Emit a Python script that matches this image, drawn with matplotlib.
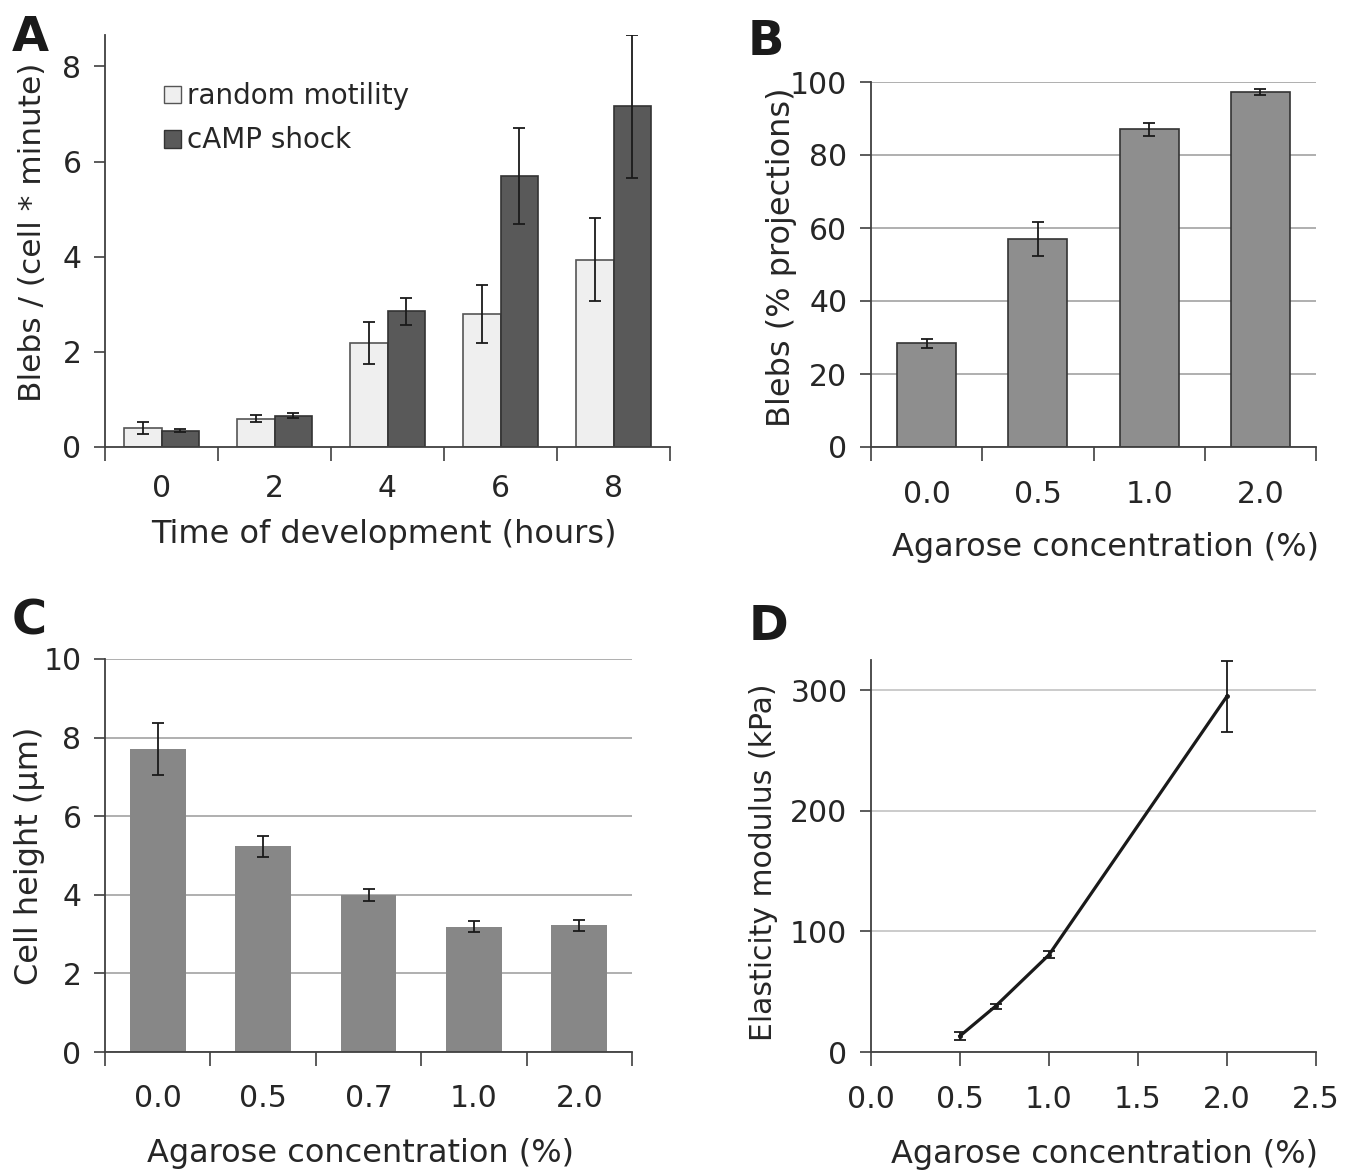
import matplotlib
matplotlib.use('Agg')
import matplotlib.pyplot as plt
import numpy as np
from matplotlib.patches import Patch

plt.rcParams['font.family'] = ['DejaVu Sans']

# ---- data ----
hours = ['0', '2', '4', '6', '8']
random_motility = [0.40, 0.59, 2.18, 2.79, 3.94]
random_err = [0.13, 0.075, 0.44, 0.61, 0.88]
camp_shock = [0.34, 0.655, 2.85, 5.69, 7.16]
camp_err = [0.03, 0.05, 0.29, 1.01, 1.51]

agarose_b = ['0.0', '0.5', '1.0', '2.0']
blebs_pct = [28.4, 56.9, 87.0, 97.2]
blebs_err = [1.2, 4.7, 1.8, 0.75]

agarose_c = ['0.0', '0.5', '0.7', '1.0', '2.0']
cell_height = [7.71, 5.23, 4.00, 3.19, 3.22]
cell_height_err = [0.66, 0.26, 0.16, 0.14, 0.14]

agarose_d = [0.5, 0.7, 1.0, 2.0]
elasticity = [13.3, 38.0, 80.6, 295.0]
elasticity_err = [3.5, 2.0, 3.0, 29.5]

W, H = 1352, 1173
fig = plt.figure(figsize=(W / 100, H / 100), dpi=100)

TXT = '#262626'
AX = '#404040'
GRID = '#9a9a9a'
TFS = 21.5
LFS = 23


def rect(l, r, b, t):
    return [l / W, 1 - b / H, (r - l) / W, (b - t) / H]


def style(ax, tfs=TFS, ypad=9):
    for s in ['top', 'right']:
        ax.spines[s].set_visible(False)
    for s in ['left', 'bottom']:
        ax.spines[s].set_color(AX)
        ax.spines[s].set_linewidth(1.3)
    ax.tick_params(axis='y', colors=AX, labelcolor=TXT, labelsize=tfs,
                   length=8, width=1.2, pad=ypad)


def cat_xaxis(ax, labels, pad, tfs=TFS):
    n = len(labels)
    ax.set_xlim(-0.5, n - 0.5)
    ax.set_xticks(np.arange(n + 1) - 0.5)
    ax.set_xticklabels([])
    ax.tick_params(axis='x', which='major', length=10, width=1.2, colors=AX)
    ax.set_xticks(np.arange(n), minor=True)
    ax.set_xticklabels(labels, minor=True)
    ax.tick_params(axis='x', which='minor', length=0, pad=pad,
                   labelsize=tfs, labelcolor=TXT)


ekw = dict(ecolor='#1a1a1a', elinewidth=1.3, capsize=4, capthick=1.3)

# ---- Panel A ----
axA = fig.add_axes(rect(105, 670, 447, 35))
style(axA)
x = np.arange(len(hours))
bw = 0.335
axA.bar(x - bw / 2, random_motility, bw, yerr=random_err, color='#efefef',
        edgecolor='#555555', linewidth=1.2, error_kw=ekw, zorder=2)
axA.bar(x + bw / 2, camp_shock, bw, yerr=camp_err, color='#595959',
        edgecolor='#333333', linewidth=1.2, error_kw=ekw, zorder=2)
axA.set_ylim(0, 8.66)
axA.set_yticks([0, 2, 4, 6, 8])
cat_xaxis(axA, hours, 19.5)
axA.set_ylabel('Blebs / (cell * minute)', fontsize=22.5, color=TXT)
axA.yaxis.set_label_coords(-0.103, 0.52)
axA.set_xlabel('Time of development (hours)', fontsize=LFS, color=TXT)
axA.xaxis.set_label_coords(0.494, -0.175)
axA.legend(handles=[Patch(facecolor='#efefef', edgecolor='#555555', label='random motility'),
                    Patch(facecolor='#595959', edgecolor='#333333', label='cAMP shock')],
           loc='upper left', bbox_to_anchor=(0.105, 0.885), frameon=False,
           fontsize=20, handlelength=0.6, handleheight=0.6, handletextpad=0.2,
           labelspacing=0.58, borderpad=0, borderaxespad=0, labelcolor=TXT)

# ---- Panel B ----
axB = fig.add_axes(rect(871, 1316, 447, 82))
style(axB)
xb = np.arange(len(agarose_b))
axB.bar(xb, blebs_pct, 0.53, yerr=blebs_err, color='#8e8e8e', edgecolor='#333333',
        linewidth=1.2, error_kw=ekw, zorder=2)
axB.set_ylim(0, 100)
axB.set_yticks(np.arange(0, 101, 20))
axB.yaxis.grid(True, color=GRID, linewidth=1.1, zorder=0)
axB.set_axisbelow(True)
cat_xaxis(axB, agarose_b, 24)
axB.set_ylabel('Blebs (% projections)', fontsize=23, color=TXT)
axB.yaxis.set_label_coords(-0.167, 0.52)
axB.set_xlabel('Agarose concentration (%)', fontsize=LFS, color=TXT)
axB.xaxis.set_label_coords(0.526, -0.233)

# ---- Panel C ----
axC = fig.add_axes(rect(105, 632, 1052, 659))
style(axC)
xc = np.arange(len(agarose_c))
axC.bar(xc, cell_height, 0.53, yerr=cell_height_err, color='#878787', linewidth=0,
        error_kw=ekw, zorder=2)
axC.set_ylim(0, 10)
axC.set_yticks(np.arange(0, 11, 2))
axC.yaxis.grid(True, color=GRID, linewidth=1.1, zorder=0)
axC.set_axisbelow(True)
cat_xaxis(axC, agarose_c, 23)
axC.set_ylabel('Cell height (µm)', fontsize=LFS, color=TXT)
axC.yaxis.set_label_coords(-0.114, 0.50)
axC.set_xlabel('Agarose concentration (%)', fontsize=LFS, color=TXT)
axC.xaxis.set_label_coords(0.484, -0.219)

# ---- Panel D ----
axD = fig.add_axes(rect(871, 1316, 1052, 660))
style(axD)
axD.errorbar(agarose_d, elasticity, yerr=elasticity_err, color='#1a1a1a', linewidth=2.3,
             marker='o', markersize=2.5, ecolor='#1a1a1a', elinewidth=1.3, capsize=4,
             capthick=1.3, zorder=3)
axD.set_xlim(0, 2.5)
axD.set_ylim(0, 325)
axD.set_yticks([0, 100, 200, 300])
axD.set_xticks(np.arange(0, 2.51, 0.5))
axD.set_xticklabels(['0.0', '0.5', '1.0', '1.5', '2.0', '2.5'])
axD.tick_params(axis='x', length=10, width=1.2, colors=AX, labelcolor=TXT,
                labelsize=TFS, pad=14)
axD.yaxis.grid(True, color='#bdbdbd', linewidth=1.1, zorder=0)
axD.set_axisbelow(True)
axD.set_ylabel('Elasticity modulus (kPa)', fontsize=21.5, color=TXT)
axD.yaxis.set_label_coords(-0.208, 0.485)
axD.set_xlabel('Agarose concentration (%)', fontsize=LFS, color=TXT)
axD.xaxis.set_label_coords(0.524, -0.222)

# ---- panel letters ----
for letter, px, py in [('A', 12, 51), ('B', 748, 55), ('C', 12, 634), ('D', 749, 640)]:
    fig.text(px / W, 1 - py / H, letter, fontsize=34.5, fontweight='bold',
             color='#1a1a1a', ha='left', va='baseline')

fig.savefig('out.png', dpi=100, facecolor='white')
